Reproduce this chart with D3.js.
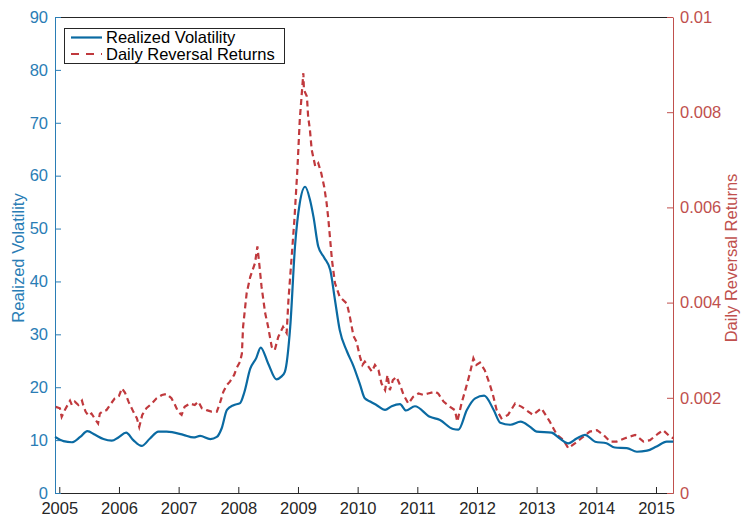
<!DOCTYPE html>
<html>
<head>
<meta charset="utf-8">
<script src="https://cdn.jsdelivr.net/npm/d3@7"></script>
<style>
  body { margin: 0; background: #fff; }
  svg { font-family: "Liberation Sans", Arial, sans-serif; }
</style>
</head>
<body>
<div id="chart"></div>
<script>
// realized volatility (left axis), decimal years
var volDates = [2004.93, 2005.07, 2005.21, 2005.35, 2005.47, 2005.60, 2005.74, 2005.88, 2005.99,
  2006.12, 2006.24, 2006.38, 2006.52, 2006.66, 2006.80, 2007.08, 2007.25, 2007.36, 2007.53,
  2007.64, 2007.72, 2007.81, 2007.92, 2008.03, 2008.10, 2008.20, 2008.30, 2008.375, 2008.50,
  2008.64, 2008.72, 2008.78, 2008.87, 2008.95, 2009.03, 2009.12, 2009.20, 2009.26, 2009.34,
  2009.44, 2009.54, 2009.62, 2009.70, 2009.82, 2009.93, 2010.04, 2010.12, 2010.21, 2010.32,
  2010.46, 2010.57, 2010.71, 2010.81, 2010.96, 2011.21, 2011.38, 2011.60, 2011.69, 2011.83,
  2011.97, 2012.12, 2012.28, 2012.39, 2012.56, 2012.73, 2012.89, 2013.00, 2013.25, 2013.39,
  2013.53, 2013.67, 2013.81, 2013.98, 2014.17, 2014.31, 2014.51, 2014.68, 2014.85, 2015.01,
  2015.18, 2015.29];
var volValues = [10.6, 9.8, 9.6, 10.6, 11.7, 11.0, 10.2, 9.9, 10.5,
  11.4, 10.0, 8.9, 10.3, 11.6, 11.6, 11.0, 10.5, 10.8, 10.2,
  10.6, 12.2, 15.7, 16.6, 17.0, 19.0, 23.5, 25.5, 27.5, 24.5,
  21.5, 22.0, 22.9, 31.4, 46.6, 54.8, 57.9, 55.5, 52.2, 46.6,
  44.5, 42.2, 36.5, 30.8, 26.8, 24.0, 20.5, 17.9, 17.3, 16.6,
  15.7, 16.4, 16.8, 15.6, 16.4, 14.4, 13.8, 12.1, 12.0, 15.7,
  17.9, 18.4, 15.7, 13.3, 12.9, 13.5, 12.5, 11.6, 11.4, 10.3,
  9.4, 10.3, 11.0, 9.7, 9.4, 8.6, 8.5, 7.8, 8.0, 8.8,
  9.7, 9.7];

// daily reversal returns (right axis)
var revDates = [2004.94, 2005.01, 2005.04, 2005.10, 2005.18, 2005.21, 2005.26, 2005.32, 2005.38,
  2005.40, 2005.44, 2005.49, 2005.54, 2005.60, 2005.65, 2005.68, 2005.74, 2005.79, 2005.85,
  2005.93, 2006.00, 2006.05, 2006.10, 2006.16, 2006.24, 2006.30, 2006.34, 2006.39, 2006.46,
  2006.55, 2006.63, 2006.72, 2006.80, 2006.88, 2006.94, 2006.99, 2007.05, 2007.10, 2007.19,
  2007.27, 2007.33, 2007.39, 2007.47, 2007.55, 2007.64, 2007.69, 2007.75, 2007.81, 2007.86,
  2007.93, 2007.97, 2008.03, 2008.06, 2008.08, 2008.14, 2008.20, 2008.28, 2008.32, 2008.35,
  2008.39, 2008.45, 2008.50, 2008.56, 2008.61, 2008.67, 2008.75, 2008.81, 2008.84, 2008.89,
  2008.94, 2008.99, 2009.03, 2009.09, 2009.10, 2009.15, 2009.17, 2009.20, 2009.23, 2009.29,
  2009.34, 2009.39, 2009.44, 2009.48, 2009.51, 2009.57, 2009.62, 2009.70, 2009.82, 2009.87,
  2009.93, 2009.98, 2010.04, 2010.08, 2010.12, 2010.24, 2010.29, 2010.35, 2010.40, 2010.46,
  2010.50, 2010.54, 2010.59, 2010.65, 2010.71, 2010.77, 2010.85, 2010.93, 2011.02, 2011.10,
  2011.18, 2011.30, 2011.35, 2011.44, 2011.55, 2011.63, 2011.67, 2011.74, 2011.82, 2011.88,
  2011.94, 2011.99, 2012.05, 2012.13, 2012.21, 2012.27, 2012.33, 2012.41, 2012.52, 2012.64,
  2012.75, 2012.86, 2012.94, 2013.08, 2013.22, 2013.34, 2013.45, 2013.53, 2013.64, 2013.75,
  2013.89, 2014.01, 2014.12, 2014.23, 2014.34, 2014.48, 2014.65, 2014.79, 2014.90, 2015.04,
  2015.12, 2015.24, 2015.29];
var revValues = [0.00181, 0.00178, 0.00160, 0.00176, 0.00194, 0.00185, 0.00192, 0.00185, 0.00194,
  0.00185, 0.00171, 0.00162, 0.00167, 0.00155, 0.00146, 0.00167, 0.00173, 0.00174, 0.00185,
  0.00199, 0.00204, 0.00220, 0.00211, 0.00192, 0.00171, 0.00157, 0.00139, 0.00164, 0.00178,
  0.00188, 0.00199, 0.00206, 0.00208, 0.00199, 0.00185, 0.00171, 0.00164, 0.00181, 0.00188,
  0.00185, 0.00192, 0.00178, 0.00174, 0.00171, 0.00171, 0.00188, 0.00213, 0.00227, 0.00234,
  0.00248, 0.00262, 0.00276, 0.00293, 0.00349, 0.00420, 0.00454, 0.00483, 0.00518, 0.00483,
  0.00433, 0.00378, 0.00349, 0.00307, 0.00300, 0.00328, 0.00349, 0.00336, 0.00405, 0.00489,
  0.00574, 0.00679, 0.00784, 0.00882, 0.00847, 0.00833, 0.00791, 0.00763, 0.00721, 0.00686,
  0.00693, 0.00672, 0.00643, 0.00609, 0.00574, 0.00489, 0.00441, 0.00412, 0.00398, 0.00370,
  0.00330, 0.00318, 0.00286, 0.00269, 0.00276, 0.00255, 0.00269, 0.00258, 0.00230, 0.00216,
  0.00248, 0.00216, 0.00237, 0.00244, 0.00227, 0.00206, 0.00188, 0.00202, 0.00209, 0.00206,
  0.00209, 0.00213, 0.00209, 0.00192, 0.00181, 0.00174, 0.00150, 0.00188, 0.00223, 0.00251,
  0.00283, 0.00269, 0.00274, 0.00258, 0.00230, 0.00205, 0.00174, 0.00157, 0.00164, 0.00188,
  0.00181, 0.00171, 0.00164, 0.00178, 0.00150, 0.00122, 0.00111, 0.00094, 0.00104, 0.00115,
  0.00129, 0.00132, 0.00122, 0.00108, 0.00108, 0.00115, 0.00122, 0.00108, 0.00111, 0.00125,
  0.00132, 0.00118, 0.00115];

var yearTicks = [2005, 2006, 2007, 2008, 2009, 2010, 2011, 2012, 2013, 2014, 2015];
var leftTicks = [0, 10, 20, 30, 40, 50, 60, 70, 80, 90];
var rightTicks = [0, 0.002, 0.004, 0.006, 0.008, 0.01];
var seriesNames = ["Realized Volatility", "Daily Reversal Returns"];

var W = 741, H = 517;
var plotLeft = 55, plotRight = 673, plotTop = 17, plotBottom = 493;
var blue = "#0a6aa2", blueText = "#2a7db5";
var red = "#c0393d", redText = "#c0504d";
var dark = "#262626";
var fontFam = "Liberation Sans, Arial, sans-serif";

var svg = d3.select("#chart").append("svg").attr("width", W).attr("height", H);

var x = d3.scaleLinear().domain([2004.928, 2015.285]).range([plotLeft, plotRight]);
var yL = d3.scaleLinear().domain([0, 90]).range([plotBottom, plotTop]);
var yR = d3.scaleLinear().domain([0, 0.01]).range([plotBottom, plotTop]);

// top border
svg.append("line").attr("x1", plotLeft).attr("x2", plotRight).attr("y1", plotTop + 0.5).attr("y2", plotTop + 0.5)
  .attr("stroke", dark).attr("stroke-width", 1);

// bottom axis
var xAxis = svg.append("g").attr("transform", "translate(0," + plotBottom + ")")
  .call(d3.axisBottom(x).tickValues(yearTicks).tickFormat(d3.format("d")).tickSizeInner(-6).tickSizeOuter(0));
xAxis.select(".domain").attr("stroke", dark);
xAxis.selectAll(".tick line").attr("stroke", dark);
xAxis.selectAll("text").attr("fill", dark).attr("font-size", 16.5).attr("y", 9)
  .attr("font-family", fontFam);

// left axis
var lAxis = svg.append("g").attr("transform", "translate(" + plotLeft + ",0)")
  .call(d3.axisLeft(yL).tickValues(leftTicks).tickSizeInner(-6).tickSizeOuter(0));
lAxis.select(".domain").attr("stroke", blueText);
lAxis.selectAll(".tick line").attr("stroke", blueText);
lAxis.selectAll("text").attr("fill", blueText).attr("font-size", 16.5).attr("x", -7)
  .attr("font-family", fontFam);

// right axis
var rAxis = svg.append("g").attr("transform", "translate(" + plotRight + ",0)")
  .call(d3.axisRight(yR).tickValues(rightTicks).tickFormat(function(d){ return d === 0 ? "0" : String(+d.toFixed(3)); })
    .tickSizeInner(-6).tickSizeOuter(0));
rAxis.select(".domain").attr("stroke", redText);
rAxis.selectAll(".tick line").attr("stroke", redText);
rAxis.selectAll("text").attr("fill", redText).attr("font-size", 16.5).attr("x", 7)
  .attr("font-family", fontFam);

// axis titles
svg.append("text").attr("transform", "translate(24,258) rotate(-90)")
  .attr("text-anchor", "middle").attr("font-size", 16.5).attr("fill", blueText)
  .text(seriesNames[0]);
svg.append("text").attr("transform", "translate(737,258) rotate(-90)")
  .attr("text-anchor", "middle").attr("font-size", 16.5).attr("fill", redText)
  .text(seriesNames[1]);

// lines
var volData = volDates.map(function(d, i){ return [d, volValues[i]]; });
var revData = revDates.map(function(d, i){ return [d, revValues[i]]; });

svg.append("path").datum(revData)
  .attr("fill", "none").attr("stroke", red).attr("stroke-width", 2.2)
  .attr("stroke-dasharray", "6,4")
  .attr("d", d3.line().x(function(d){ return x(d[0]); }).y(function(d){ return yR(d[1]); }));

svg.append("path").datum(volData)
  .attr("fill", "none").attr("stroke", blue).attr("stroke-width", 2.2)
  .attr("d", d3.line().curve(d3.curveMonotoneX)
    .x(function(d){ return x(d[0]); }).y(function(d){ return yL(d[1]); }));

// legend
var lg = svg.append("g");
lg.append("rect").attr("x", 64.5).attr("y", 28.5).attr("width", 220).attr("height", 35)
  .attr("fill", "#fff").attr("stroke", dark).attr("stroke-width", 1);
lg.append("line").attr("x1", 71).attr("x2", 102).attr("y1", 37.5).attr("y2", 37.5)
  .attr("stroke", blue).attr("stroke-width", 2.2);
lg.append("line").attr("x1", 71).attr("x2", 102).attr("y1", 54).attr("y2", 54)
  .attr("stroke", red).attr("stroke-width", 2.2).attr("stroke-dasharray", "8,7");
lg.append("text").attr("x", 106).attr("y", 42.5).attr("font-size", 16.5).attr("fill", "#000")
  .text(seriesNames[0]);
lg.append("text").attr("x", 106).attr("y", 59.5).attr("font-size", 16.5).attr("fill", "#000")
  .text(seriesNames[1]);
</script>
</body>
</html>
